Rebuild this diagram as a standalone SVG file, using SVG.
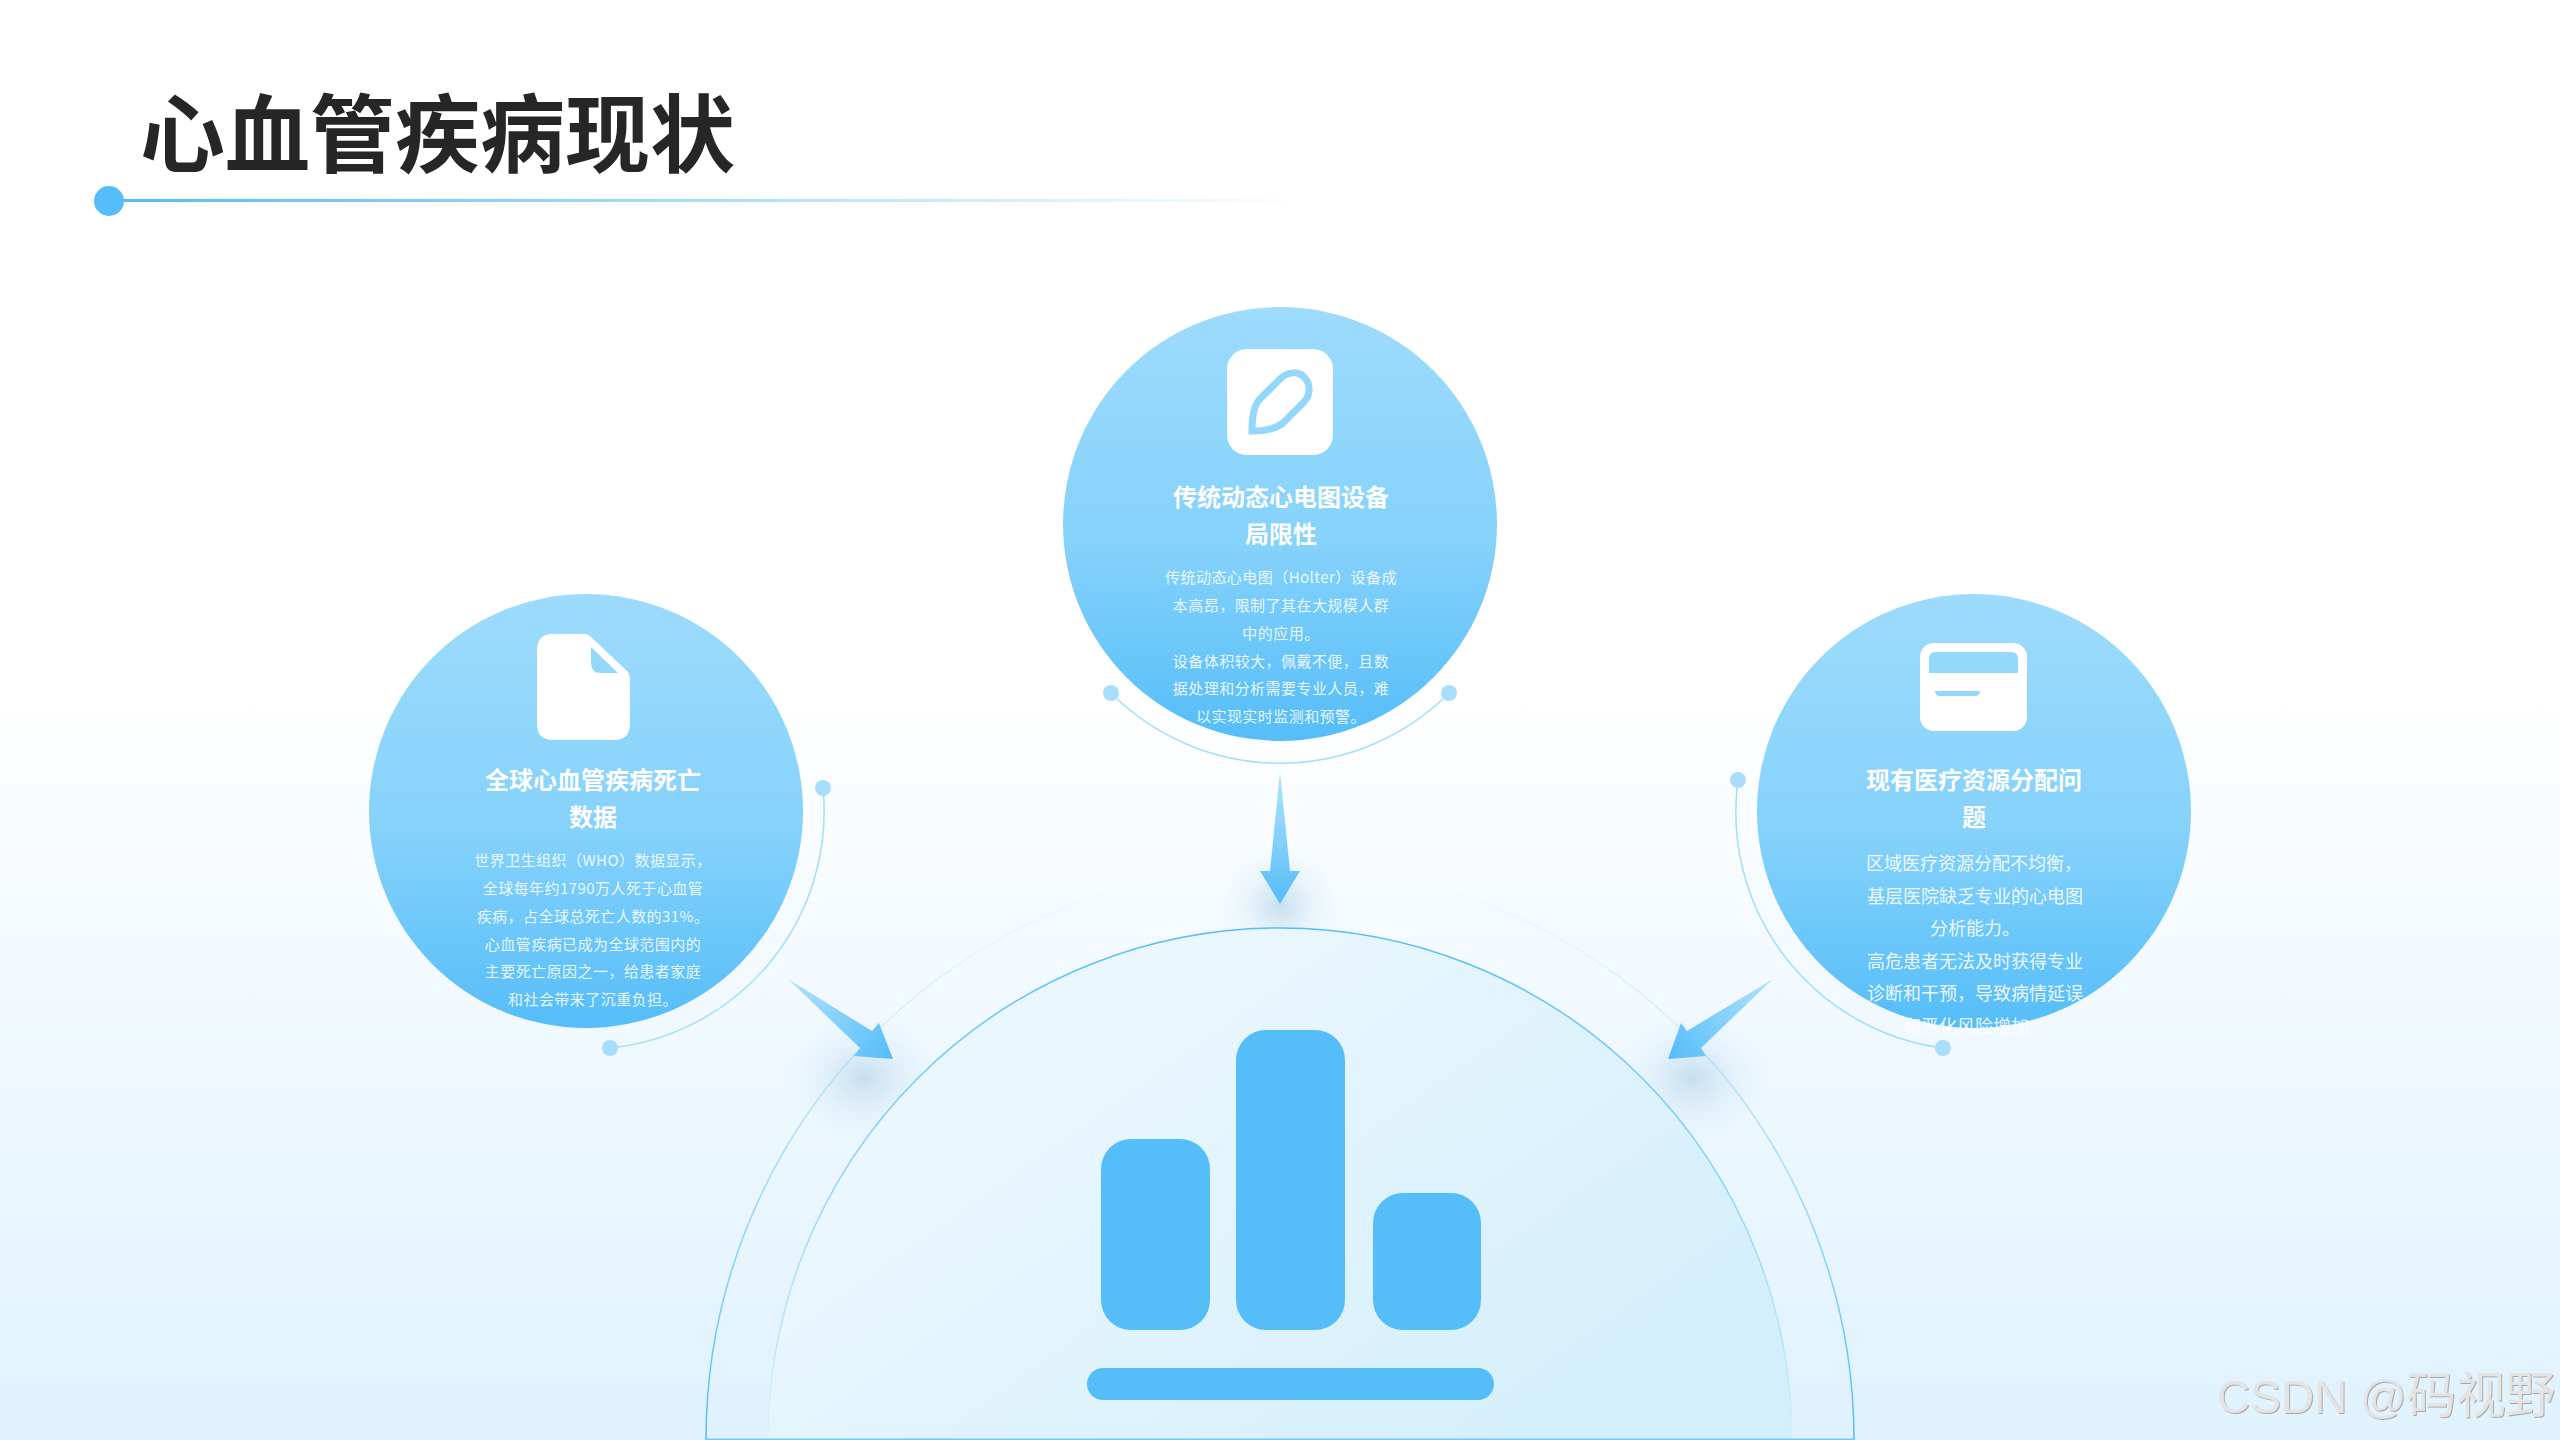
<svg xmlns="http://www.w3.org/2000/svg" width="2560" height="1440" viewBox="0 0 2560 1440">
<defs>
<linearGradient id="bg" x1="0" y1="0" x2="0" y2="1"><stop offset="0.48" stop-color="#ffffff"/><stop offset="1" stop-color="#dff2fe"/></linearGradient>
<linearGradient id="ball" x1="0" y1="0" x2="0" y2="1"><stop offset="0" stop-color="#9edbfc"/><stop offset="0.55" stop-color="#85d2fb"/><stop offset="1" stop-color="#55bdf8"/></linearGradient>
<linearGradient id="rule" gradientUnits="userSpaceOnUse" x1="124" y1="0" x2="1310" y2="0"><stop offset="0" stop-color="#55bdf8"/><stop offset="1" stop-color="#55bdf8" stop-opacity="0"/></linearGradient>
<linearGradient id="domeFill" gradientUnits="userSpaceOnUse" x1="1200" y1="930" x2="1560" y2="1440"><stop offset="0" stop-color="#ebf7fe"/><stop offset="1" stop-color="#d3effc"/></linearGradient>
<linearGradient id="outerLine" gradientUnits="userSpaceOnUse" x1="0" y1="866" x2="0" y2="1440"><stop offset="0" stop-color="#55bdf8" stop-opacity="0"/><stop offset="0.3" stop-color="#55bdf8" stop-opacity="0.2"/><stop offset="1" stop-color="#55bdf8"/></linearGradient>
<linearGradient id="innerLine" gradientUnits="userSpaceOnUse" x1="0" y1="928" x2="0" y2="1440"><stop offset="0" stop-color="#55bdf8"/><stop offset="0.5" stop-color="#55bdf8" stop-opacity="0.6"/><stop offset="1" stop-color="#55bdf8" stop-opacity="0.03"/></linearGradient>
<linearGradient id="arrowC" gradientUnits="userSpaceOnUse" x1="1280" y1="772" x2="1280" y2="904"><stop offset="0" stop-color="#b4e3fd"/><stop offset="1" stop-color="#55bdf8"/></linearGradient>
<linearGradient id="arrowL" gradientUnits="userSpaceOnUse" x1="788" y1="979" x2="893" y2="1059"><stop offset="0" stop-color="#b4e3fd"/><stop offset="1" stop-color="#55bdf8"/></linearGradient>
<linearGradient id="arrowR" gradientUnits="userSpaceOnUse" x1="1773" y1="979" x2="1668" y2="1059"><stop offset="0" stop-color="#b4e3fd"/><stop offset="1" stop-color="#55bdf8"/></linearGradient>
<radialGradient id="glow"><stop offset="0" stop-color="#bcd8ec" stop-opacity="0.8"/><stop offset="0.5" stop-color="#c6dff0" stop-opacity="0.3"/><stop offset="1" stop-color="#d6ebf8" stop-opacity="0"/></radialGradient>
<filter id="emboss" x="-5%" y="-20%" width="110%" height="140%"><feDropShadow dx="1" dy="1" stdDeviation="0.5" flood-color="#a8a8a8"/></filter>
</defs>
<style>
text{font-family:"Noto Sans CJK SC","Noto Sans",sans-serif;text-anchor:middle;fill:#fff}
.title{font-size:85px;font-weight:700;fill:#262626;text-anchor:start}
.head{font-size:24px;font-weight:700}
.body{font-size:15px;letter-spacing:.45px;fill-opacity:.88}
.bodyL{font-size:18px;fill-opacity:.9}
.wm{font-family:"Liberation Sans","Noto Sans CJK SC",sans-serif;text-anchor:start;fill:#e4e4e4;filter:url(#emboss)}
.ball{fill:url(#ball)}
.ring{fill:none;stroke:#a8defc;stroke-width:1.6}
.dot{fill:#a8defc}
.bar{fill:#55bdf8}
.ico{fill:#fff}
.icoCut{fill:#93d7fb}
</style>
<rect width="2560" height="1440" fill="url(#bg)"/>
<g id="header">
<text class="title" x="140" y="166">心血管疾病现状</text>
<rect x="120" y="199" width="1190" height="3" fill="url(#rule)"/>
<circle cx="109" cy="201" r="15" fill="#55bdf8"/>
</g>
<g id="dome">
<ellipse cx="1280" cy="906" rx="62" ry="62" fill="url(#glow)"/>
<ellipse cx="864" cy="1078" rx="80" ry="66" fill="url(#glow)"/>
<ellipse cx="1692" cy="1078" rx="80" ry="66" fill="url(#glow)"/>
<path d="M706 1440A574 574 0 0 1 1854 1440" fill="none" stroke="url(#outerLine)" stroke-width="1.5"/>
<path d="M768 1440A512 512 0 0 1 1792 1440Z" fill="url(#domeFill)"/>
<path d="M768 1440A512 512 0 0 1 1792 1440" fill="none" stroke="url(#innerLine)" stroke-width="1.5"/>
<line x1="706" y1="1439.300" x2="1854" y2="1439.300" stroke="#72c9f9" stroke-width="1.500"/>
</g>
<g id="chart-icon">
<rect class="bar" x="1101" y="1139" width="109" height="191" rx="30"/>
<rect class="bar" x="1236" y="1030" width="109" height="300" rx="30"/>
<rect class="bar" x="1373" y="1193" width="108" height="137" rx="30"/>
<rect class="bar" x="1087" y="1368" width="407" height="32" rx="16"/>
</g>
<g id="connectors">
<path class="ring" d="M1111 693A238.500 238.500 0 0 0 1449 693"/>
<path class="ring" d="M823 788A238 238 0 0 1 610 1048"/>
<path class="ring" d="M1738 780A238 238 0 0 0 1943 1048"/>
<circle class="dot" cx="1111" cy="693" r="8"/><circle class="dot" cx="1449" cy="693" r="8"/>
<circle class="dot" cx="823" cy="788" r="8"/><circle class="dot" cx="610" cy="1048" r="8"/>
<circle class="dot" cx="1738" cy="780" r="8"/><circle class="dot" cx="1943" cy="1048" r="8"/>
<polygon fill="url(#arrowC)" points="1280,772 1290,871 1300,871 1280,904 1260,871 1270,871"/>
<polygon fill="url(#arrowL)" points="788,979 872,1031 879,1023 893,1059 854,1056 860,1048"/>
<polygon fill="url(#arrowR)" points="1773,979 1687,1031 1681,1023 1668,1059 1706,1056 1701,1048"/>
</g>
<g id="node-center">
<circle class="ball" cx="1280" cy="524" r="217"/>
<rect class="ico" x="1227" y="349" width="106" height="106" rx="20"/>
<path d="M1252 431C1252 420 1253 407 1259 400L1280 379C1288 371 1299 371 1305 378C1311 385 1310 396 1304 402L1283 423C1276 429 1263 431 1252 431Z" fill="none" stroke="#93d7fb" stroke-width="7"/>
<text class="head" x="1281" y="506">传统动态心电图设备</text>
<text class="head" x="1281" y="543">局限性</text>
<text class="body" x="1281" y="583">传统动态心电图（Holter）设备成</text>
<text class="body" x="1281" y="611">本高昂，限制了其在大规模人群</text>
<text class="body" x="1281" y="639">中的应用。</text>
<text class="body" x="1281" y="667">设备体积较大，佩戴不便，且数</text>
<text class="body" x="1281" y="694">据处理和分析需要专业人员，难</text>
<text class="body" x="1281" y="722">以实现实时监测和预警。</text>
</g>
<g id="node-left">
<circle class="ball" cx="586" cy="811" r="217"/>
<path class="ico" d="M553 634H585Q588 634 590 636L627 671Q630 674 630 678V724Q630 740 614 740H553Q537 740 537 724V650Q537 634 553 634Z"/>
<path class="icoCut" d="M591 647L618 673H601Q591 673 591 663Z"/>
<text class="head" x="593" y="789">全球心血管疾病死亡</text>
<text class="head" x="593" y="826">数据</text>
<text class="body" x="593" y="866">世界卫生组织（WHO）数据显示，</text>
<text class="body" x="593" y="894">全球每年约1790万人死于心血管</text>
<text class="body" x="593" y="922">疾病，占全球总死亡人数的31%。</text>
<text class="body" x="593" y="950">心血管疾病已成为全球范围内的</text>
<text class="body" x="593" y="977">主要死亡原因之一，给患者家庭</text>
<text class="body" x="593" y="1005">和社会带来了沉重负担。</text>
</g>
<g id="node-right">
<circle class="ball" cx="1974" cy="811" r="217"/>
<rect class="ico" x="1920" y="643" width="107" height="88" rx="14"/>
<path class="icoCut" d="M1929 673V659Q1929 652 1936 652H2011Q2018 652 2018 659V673Z"/>
<path class="icoCut" d="M1935 691H1980Q1980 696 1975 696H1940Q1935 696 1935 691Z"/>
<text class="head" x="1974" y="789">现有医疗资源分配问</text>
<text class="head" x="1974" y="826">题</text>
<text class="bodyL" x="1974" y="870">区域医疗资源分配不均衡，</text>
<text class="bodyL" x="1975" y="903">基层医院缺乏专业的心电图</text>
<text class="bodyL" x="1975" y="935">分析能力。</text>
<text class="bodyL" x="1975" y="968">高危患者无法及时获得专业</text>
<text class="bodyL" x="1975" y="1000">诊断和干预，导致病情延误</text>
<text class="bodyL" x="1975" y="1033">和恶化风险增加。</text>
</g>
<g id="watermark">
<text class="wm" x="2217" y="1413" font-size="46">CSDN @<tspan font-size="49.500">码视野</tspan></text>
</g>
</svg>
